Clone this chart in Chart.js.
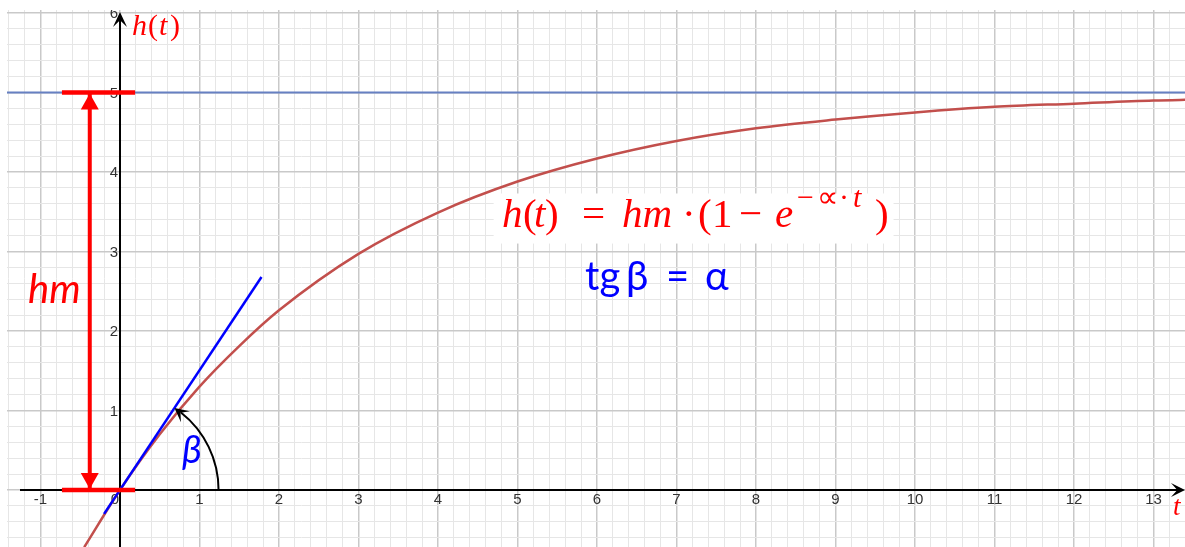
<!DOCTYPE html>
<html>
<head>
<meta charset="utf-8">
<script src="https://cdn.jsdelivr.net/npm/chart.js@4/dist/chart.umd.min.js"></script>
<style>
  html, body { margin: 0; padding: 0; background: #fff; }
  canvas { display: block; }
</style>
</head>
<body>
<canvas id="plot" width="1185" height="547"></canvas>
<script>
const curveT = [-0.45, 0, 0.5, 1, 1.5, 2, 3, 4, 5, 6, 7, 8, 9, 10, 11, 12, 13, 13.5];
const curveH = [-0.72, 0, 0.70, 1.30, 1.81, 2.26, 2.97, 3.49, 3.88, 4.17, 4.39, 4.55, 4.66, 4.75, 4.82, 4.86, 4.90, 4.91];

// tangent at the origin
const tangentT = [-0.2, 1.78];
const tangentH = [-0.3, 2.68];

// hm level (asymptote) and the dimension arrow beside the axis
const hmLevel = 5;
const asymT = [-1.5, 13.5];
const hmShaftT = -0.38;
const hmBarT = [-0.73, 0.19];

// angle arc radius, in t units
const arcRadius = 1.24;

const xTickLabels = [-1, 0, 1, 2, 3, 4, 5, 6, 7, 8, 9, 10, 11, 12, 13];
const yTickLabels = [1, 2, 3, 4, 5, 6];

const xRange = [-1.421, 13.396];
const yRange = [-0.717, 6.038];

const pts = (xs, ys) => xs.map((x, i) => ({ x, y: ys[i] }));
const isWhole = v => Math.abs(v - Math.round(v)) < 1e-6;

function gridTicks(scale) {
  const out = [];
  const start = Math.ceil(scale.min / 0.2 - 1e-6);
  const end = Math.floor(scale.max / 0.2 + 1e-6);
  for (let i = start; i <= end; i++) out.push({ value: +(i * 0.2).toFixed(4) });
  scale.ticks = out;
}

function headFilled(ctx, x, y, ang, len, half, notch) {
  ctx.save();
  ctx.translate(x, y);
  ctx.rotate(ang);
  ctx.beginPath();
  ctx.moveTo(0, 0);
  ctx.lineTo(-len, -half);
  ctx.lineTo(-len * notch, 0);
  ctx.lineTo(-len, half);
  ctx.closePath();
  ctx.fill();
  ctx.restore();
}

// pieces are [text, font, dx, raise]; dx is the offset from the run's left edge
function placed(ctx, x, y, pieces, color) {
  ctx.fillStyle = color;
  ctx.textAlign = 'left';
  ctx.textBaseline = 'alphabetic';
  for (const p of pieces) {
    ctx.font = p[1];
    ctx.fillText(p[0], x + p[2], y - (p[3] || 0));
  }
}

const it = s => 'italic ' + s + 'px "Liberation Serif", serif';
const up = s => s + 'px "Liberation Serif", serif';
const sans = s => s + 'px Lato, "Noto Sans", sans-serif';

const decor = {
  id: 'decor',
  beforeDatasetsDraw(chart) {
    const { ctx, chartArea: a, scales: { x, y } } = chart;
    const ox = Math.round(x.getPixelForValue(0));
    const oy = Math.round(y.getPixelForValue(0));
    ctx.save();
    ctx.strokeStyle = '#000';
    ctx.fillStyle = '#000';
    ctx.lineWidth = 2;
    ctx.beginPath();
    ctx.moveTo(a.left + 13, oy);
    ctx.lineTo(a.right - 6, oy);
    ctx.moveTo(ox, a.bottom);
    ctx.lineTo(ox, a.top + 8);
    ctx.stroke();
    headFilled(ctx, a.right, oy, 0, 14, 7, 0.55);
    headFilled(ctx, ox, a.top + 2, -Math.PI / 2, 15, 7, 0.55);

    ctx.fillStyle = '#333';
    ctx.font = '15px "Liberation Sans", Arial, sans-serif';
    ctx.textBaseline = 'middle';
    for (const v of xTickLabels) {
      if (v === 0) {
        ctx.textAlign = 'right';
        ctx.fillText('0', ox - 1, oy + 10);
      } else {
        ctx.textAlign = 'center';
        ctx.fillText(String(v), x.getPixelForValue(v), oy + 10);
      }
    }
    ctx.save();
    ctx.beginPath();
    ctx.rect(a.left, a.top, a.right - a.left, a.bottom - a.top);
    ctx.clip();
    ctx.textAlign = 'right';
    for (const v of yTickLabels) ctx.fillText(String(v), ox - 2, y.getPixelForValue(v) + 1);
    ctx.restore();
    ctx.restore();
  },
  afterDatasetsDraw(chart) {
    const { ctx, scales: { x, y } } = chart;
    const px = v => x.getPixelForValue(v);
    const py = v => y.getPixelForValue(v);
    ctx.save();

    // hm arrowheads
    ctx.fillStyle = '#ff0000';
    headFilled(ctx, px(hmShaftT), py(hmLevel) + 1, -Math.PI / 2, 16, 9, 1);
    headFilled(ctx, px(hmShaftT), py(0) - 1, Math.PI / 2, 16, 9, 1);

    // angle beta between t axis and tangent, arrow runs counterclockwise
    const cx = px(0), cy = py(0);
    const r = px(arcRadius) - cx;
    const beta = Math.atan2(py(tangentH[0]) - py(tangentH[1]), px(tangentT[1]) - px(tangentT[0]));
    ctx.strokeStyle = '#000';
    ctx.fillStyle = '#000';
    ctx.lineWidth = 2;
    ctx.beginPath();
    ctx.arc(cx, cy, r, 0, -beta + 0.08, true);
    ctx.stroke();
    const tx = cx + r * Math.cos(beta), ty = cy - r * Math.sin(beta);
    headFilled(ctx, tx, ty, -Math.PI / 2 - beta + 0.1, 14, 7, 0.55);

    // texts
    ctx.textAlign = 'left';
    ctx.textBaseline = 'alphabetic';
    ctx.fillStyle = '#0000ff';
    ctx.font = 'italic ' + sans(38);
    ctx.fillText('β', px(0.78), py(0.34));

    ctx.fillStyle = '#ff0000';
    ctx.font = 'italic ' + sans(40);
    ctx.fillText('hm', px(-1.157), py(2.35));

    placed(ctx, px(0.151), py(5.72), [
      ['h', it(30), 0], ['(', up(30), 16], ['t', it(30), 27], [')', up(30), 38]
    ], '#ff0000');
    placed(ctx, px(13.245), py(-0.314), [['t', it(27), 0]], '#ff0000');

    // formula on a white card
    ctx.fillStyle = '#fff';
    ctx.fillRect(px(4.7), py(3.73), px(9.73) - px(4.7), py(3.1) - py(3.73));
    placed(ctx, px(4.805), py(3.308), [
      ['h', it(41), 0], ['(', up(41), 21], ['t', it(41), 32], [')', up(41), 43],
      ['=', up(41), 80], ['hm', it(41), 120], ['·', up(41), 180], ['(', up(41), 196],
      ['1', up(41), 210], ['−', up(41), 237], ['e', it(41), 273],
      ['−', up(30), 295, 20], ['∝', up(30), 315, 20], ['·', up(30), 337, 20], ['t', it(30), 351, 20],
      [')', up(41), 373]
    ], '#ff0000');

    placed(ctx, px(5.85), py(2.516), [
      ['tg', sans(40), 0], ['β', sans(40), 41], ['=', sans(40), 81], ['α', sans(40), 120]
    ], '#0000ff');
    ctx.restore();
  }
};

const line = (data, color, width, extra) => Object.assign({
  data, borderColor: color, borderWidth: width, showLine: true,
  pointRadius: 0, fill: false, borderCapStyle: 'butt'
}, extra || {});

new Chart(document.getElementById('plot'), {
  type: 'scatter',
  data: {
    datasets: [
      line(pts([hmShaftT, hmShaftT], [0, hmLevel]), '#ff0000', 4),
      line(pts(hmBarT, [hmLevel, hmLevel]), '#ff0000', 4.5),
      line(pts(hmBarT, [0, 0]), '#ff0000', 4.5),
      line(pts(tangentT, tangentH), '#0000ff', 2.5),
      line(pts(curveT, curveH), '#c24f4c', 2.5, { cubicInterpolationMode: 'monotone' }),
      line(pts(asymT, [hmLevel, hmLevel]), '#6680c2', 2)
    ]
  },
  options: {
    responsive: false,
    animation: false,
    events: [],
    layout: { padding: { left: 7, top: 10, right: 0, bottom: 0 } },
    plugins: { legend: { display: false }, tooltip: { enabled: false } },
    scales: {
      x: {
        type: 'linear', min: xRange[0], max: xRange[1],
        afterBuildTicks: gridTicks,
        afterFit: s => { s.height = 0; },
        ticks: { display: false },
        border: { display: false },
        grid: {
          drawTicks: false,
          color: c => isWhole(c.tick.value) ? '#c9c9c9' : '#e6e6e6',
          lineWidth: c => isWhole(c.tick.value) ? 1.5 : 1
        }
      },
      y: {
        type: 'linear', min: yRange[0], max: yRange[1],
        afterBuildTicks: gridTicks,
        afterFit: s => { s.width = 0; },
        ticks: { display: false },
        border: { display: false },
        grid: {
          drawTicks: false,
          color: c => isWhole(c.tick.value) ? '#c9c9c9' : '#e6e6e6',
          lineWidth: c => isWhole(c.tick.value) ? 1.5 : 1
        }
      }
    }
  },
  plugins: [decor]
});
</script>
</body>
</html>
